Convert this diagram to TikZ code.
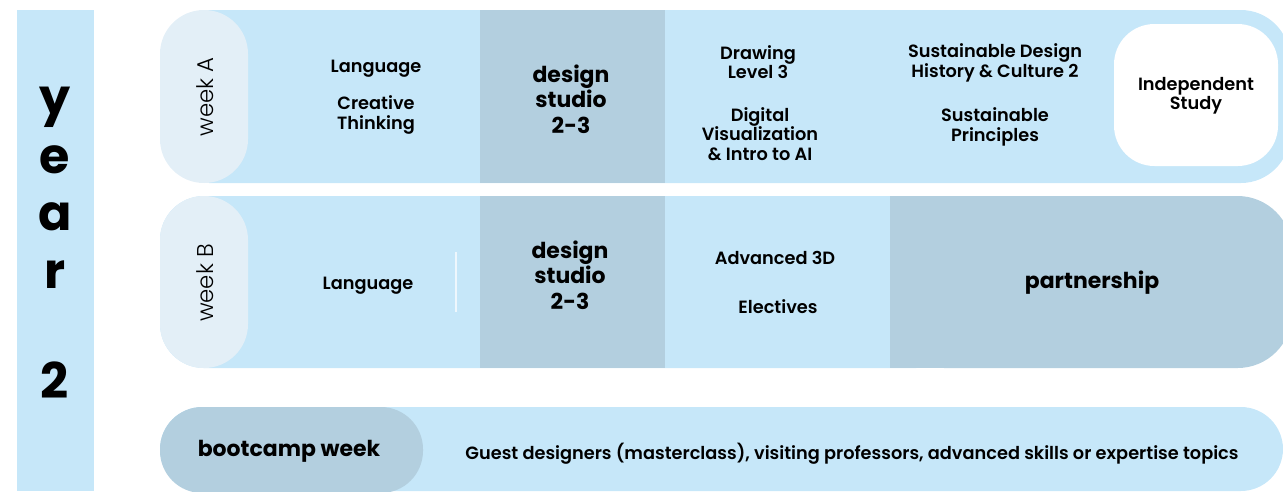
\documentclass[tikz,border=0pt]{standalone}
\usepackage{fontspec}
\setmainfont{Poppins}[UprightFont=* SemiBold, BoldFont=* Bold]
\newfontfamily\weekfont{Poppins}[UprightFont=* Light]
\definecolor{skyrow}{HTML}{C6E7F9}
\definecolor{palepill}{HTML}{E3EFF7}
\definecolor{studio}{HTML}{B3CFDF}
\tikzset{
  lbl/.style={align=center,font=\fontsize{10.1}{11}\selectfont,inner sep=0pt},
  disp/.style={align=center,font=\bfseries\fontsize{12.5}{14.5}\selectfont,inner sep=0pt},
  yr/.style={font=\bfseries\fontsize{28}{28}\selectfont,inner sep=0pt},
  wk/.style={rotate=90,font=\weekfont\fontsize{13}{14}\selectfont,inner sep=0pt}
}
\begin{document}
\begin{tikzpicture}[x=0.02cm,y=-0.02cm]

\useasboundingbox (0,0) rectangle (1283,491) ;

% year column
\fill[skyrow] (17,10) rectangle (94,491) ;
\node[yr] (yr_y) at (55,107) {y} ;
\node[yr] (yr_e) at (55,160) {e} ;
\node[yr] (yr_a) at (55,217) {a} ;
\node[yr] (yr_r) at (55,275) {r} ;
\node[yr] (yr_two) at (55,380) {2} ;

% week A
\fill[skyrow,rounded corners=28pt] (160,10) rectangle (1290,183) ;
\fill[studio] (480,10) rectangle (665,183) ;
\fill[white,rounded corners=23pt] (1114,24) rectangle (1278,166) ;
\fill[palepill,rounded corners=25pt] (160,10) rectangle (248,183) ;

\node[wk] (wk_a) at (205,97) {week A} ;
\node[lbl] (a_lang) at (376,69) {Language} ;
\node[lbl] (a_creat) at (376,115) {Creative\\Thinking} ;
\node[disp] (a_studio) at (571,99) {design\\studio\\2-3} ;
\node[lbl] (a_draw) at (758,62) {Drawing\\Level 3} ;
\node[lbl] (a_digi) at (760,134) {Digital\\Visualization\\\& Intro to AI} ;
\node[lbl] (a_susd) at (995,63) {Sustainable Design\\History \& Culture 2} ;
\node[lbl] (a_susp) at (995,127) {Sustainable\\Principles} ;
\node[lbl] (a_indep) at (1196,96) {Independent\\Study} ;

% week B
\fill[skyrow,rounded corners=25pt] (160,196) rectangle (960,368) ;
\fill[studio] (480,196) rectangle (665,368) ;
\fill[studio,rounded corners=31pt] (890,196) rectangle (1292,368) ;
\fill[studio] (890,196) rectangle (960,368) ;
\fill[palepill,rounded corners=25pt] (160,196) rectangle (248,368) ;
\draw[white,opacity=0.7,line width=0.6pt] (456,252) -- (456,312) ;

\node[wk] (wk_b) at (205,283) {week B} ;
\node[lbl] (b_lang) at (368,286) {Language} ;
\node[disp] (b_studio) at (570,275) {design\\studio\\2-3} ;
\node[lbl] (b_adv) at (775,258) {Advanced 3D} ;
\node[lbl] (b_elec) at (778,307) {Electives} ;
\node[disp] (b_part) at (1092,283) {partnership} ;

% bootcamp
\fill[skyrow,rounded corners=24pt] (160,407) rectangle (1283,491) ;
\fill[studio,rounded corners=24pt] (160,407) rectangle (423,493) ;
\node[disp] (boot) at (289,451) {bootcamp week} ;
\node[lbl] (guest) at (852,454) {Guest designers (masterclass), visiting professors, advanced skills or expertise topics} ;

\end{tikzpicture}
\end{document}
